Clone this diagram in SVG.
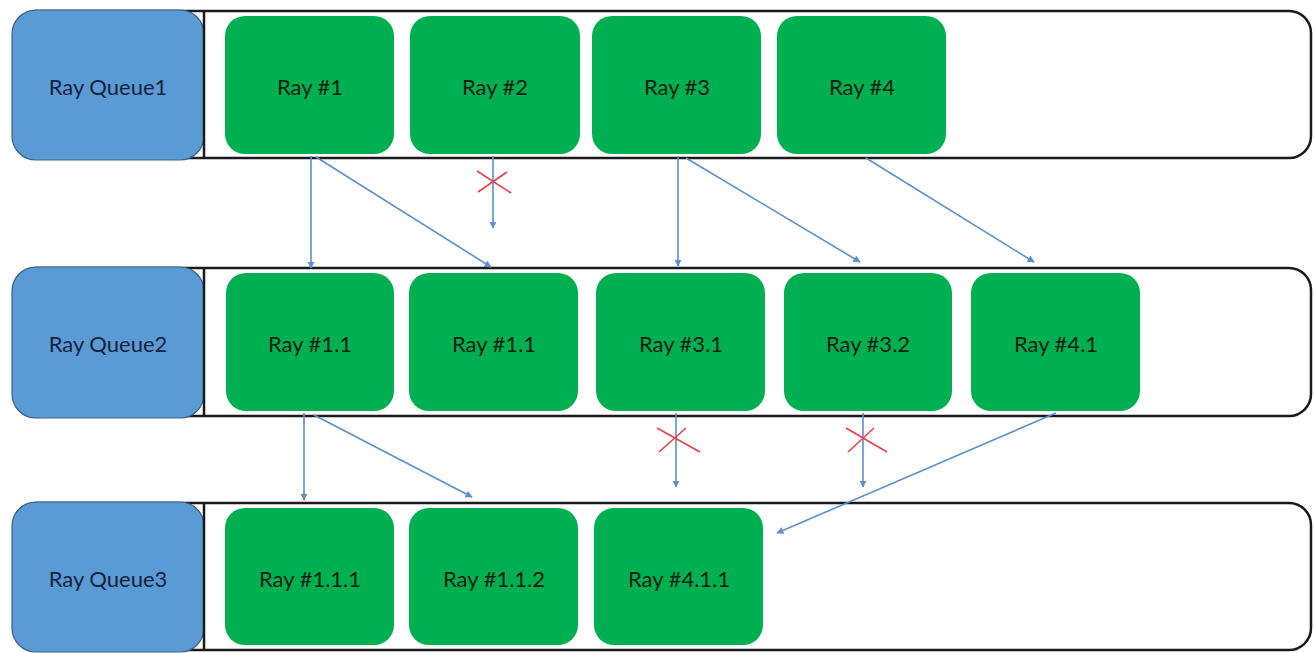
<svg xmlns="http://www.w3.org/2000/svg" width="1314" height="653" viewBox="0 0 1314 653">
  <style>
    .lane { fill: #ffffff; stroke: #1a1a1a; stroke-width: 2.5; }
    .queue { fill: #5b9bd5; stroke: #3a5f86; stroke-width: 1.2; }
    .ray { fill: #00b050; }
    .sep { stroke: #1a1a1a; stroke-width: 2.5; }
    .qlabel { font-family: Lato, "Liberation Sans", sans-serif; font-size: 22px; fill: #14233d; text-anchor: middle; dominant-baseline: central; }
    .rlabel { font-family: Lato, "Liberation Sans", sans-serif; font-size: 22px; fill: #0c2014; text-anchor: middle; dominant-baseline: central; }
    .link { stroke: #5b8fd0; stroke-width: 1.6; fill: none; marker-end: url(#tip); }
    .cross { stroke: #e8404a; stroke-width: 1.6; fill: none; }
  </style>
  <defs>
    <marker id="tip" viewBox="0 0 10 10" refX="9" refY="5" markerWidth="4.5" markerHeight="4.5" orient="auto-start-reverse">
      <path d="M0,0 L10,5 L0,10 z" fill="#5b8fd0"/>
    </marker>
  </defs>

  <rect width="1314" height="653" fill="#ffffff"/>

  <!-- queue 1 -->
  <g id="queue1">
    <rect class="lane" x="14" y="11" width="1297" height="147" rx="22"/>
    <rect class="queue" x="12" y="10" width="192" height="150" rx="24"/>
    <line class="sep" x1="204" y1="11" x2="204" y2="158"/>
    <text class="qlabel" x="108" y="86">Ray Queue1</text>
  </g>
  <!-- queue 2 -->
  <g id="queue2">
    <rect class="lane" x="14" y="268" width="1297" height="148" rx="22"/>
    <rect class="queue" x="12" y="267" width="192" height="151" rx="24"/>
    <line class="sep" x1="204" y1="268" x2="204" y2="416"/>
    <text class="qlabel" x="108" y="343">Ray Queue2</text>
  </g>
  <!-- queue 3 -->
  <g id="queue3">
    <rect class="lane" x="14" y="503" width="1297" height="147" rx="22"/>
    <rect class="queue" x="12" y="502" width="192" height="150" rx="24"/>
    <line class="sep" x1="204" y1="503" x2="204" y2="650"/>
    <text class="qlabel" x="108" y="578">Ray Queue3</text>
  </g>

  <!-- rays, first level -->
  <g id="ray1"><rect class="ray" x="225" y="16" width="169" height="138" rx="20"/><text class="rlabel" x="310" y="86">Ray #1</text></g>
  <g id="ray2"><rect class="ray" x="410" y="16" width="170" height="138" rx="20"/><text class="rlabel" x="495" y="86">Ray #2</text></g>
  <g id="ray3"><rect class="ray" x="592" y="16" width="169" height="138" rx="20"/><text class="rlabel" x="677" y="86">Ray #3</text></g>
  <g id="ray4"><rect class="ray" x="777" y="16" width="169" height="138" rx="20"/><text class="rlabel" x="862" y="86">Ray #4</text></g>

  <!-- rays, second level -->
  <g id="ray1-1a"><rect class="ray" x="226" y="273" width="168" height="138" rx="20"/><text class="rlabel" x="310" y="343">Ray #1.1</text></g>
  <g id="ray1-1b"><rect class="ray" x="409" y="273" width="169" height="138" rx="20"/><text class="rlabel" x="494" y="343">Ray #1.1</text></g>
  <g id="ray3-1"><rect class="ray" x="596" y="273" width="169" height="138" rx="20"/><text class="rlabel" x="681" y="343">Ray #3.1</text></g>
  <g id="ray3-2"><rect class="ray" x="784" y="273" width="168" height="138" rx="20"/><text class="rlabel" x="868" y="343">Ray #3.2</text></g>
  <g id="ray4-1"><rect class="ray" x="971" y="273" width="169" height="138" rx="20"/><text class="rlabel" x="1056" y="343">Ray #4.1</text></g>

  <!-- rays, third level -->
  <g id="ray1-1-1"><rect class="ray" x="225" y="508" width="169" height="137" rx="20"/><text class="rlabel" x="310" y="578">Ray #1.1.1</text></g>
  <g id="ray1-1-2"><rect class="ray" x="409" y="508" width="169" height="137" rx="20"/><text class="rlabel" x="494" y="578">Ray #1.1.2</text></g>
  <g id="ray4-1-1"><rect class="ray" x="594" y="508" width="169" height="137" rx="20"/><text class="rlabel" x="679" y="578">Ray #4.1.1</text></g>

  <!-- connectors -->
  <g id="connectors">
    <line class="link" x1="311" y1="156" x2="311" y2="268"/>
    <line class="link" x1="316" y1="157" x2="491" y2="267"/>
    <line class="link" x1="493" y1="156" x2="493" y2="228"/>
    <line class="link" x1="678" y1="156" x2="678" y2="266"/>
    <line class="link" x1="686" y1="158" x2="860" y2="262"/>
    <line class="link" x1="866" y1="158" x2="1034" y2="262"/>

    <line class="link" x1="304" y1="413" x2="304" y2="500"/>
    <line class="link" x1="314" y1="415" x2="472" y2="497"/>
    <line class="link" x1="676" y1="413" x2="676" y2="487"/>
    <line class="link" x1="863" y1="413" x2="863" y2="487"/>
    <line class="link" x1="1056" y1="413" x2="777" y2="533"/>

    <path class="cross" d="M477,171 L511,193 M478,192 L507,172"/>
    <path class="cross" d="M657,428 L700,452 M659,452 L686,428"/>
    <path class="cross" d="M846,428 L887,452 M848,452 L874,428"/>
  </g>
</svg>
